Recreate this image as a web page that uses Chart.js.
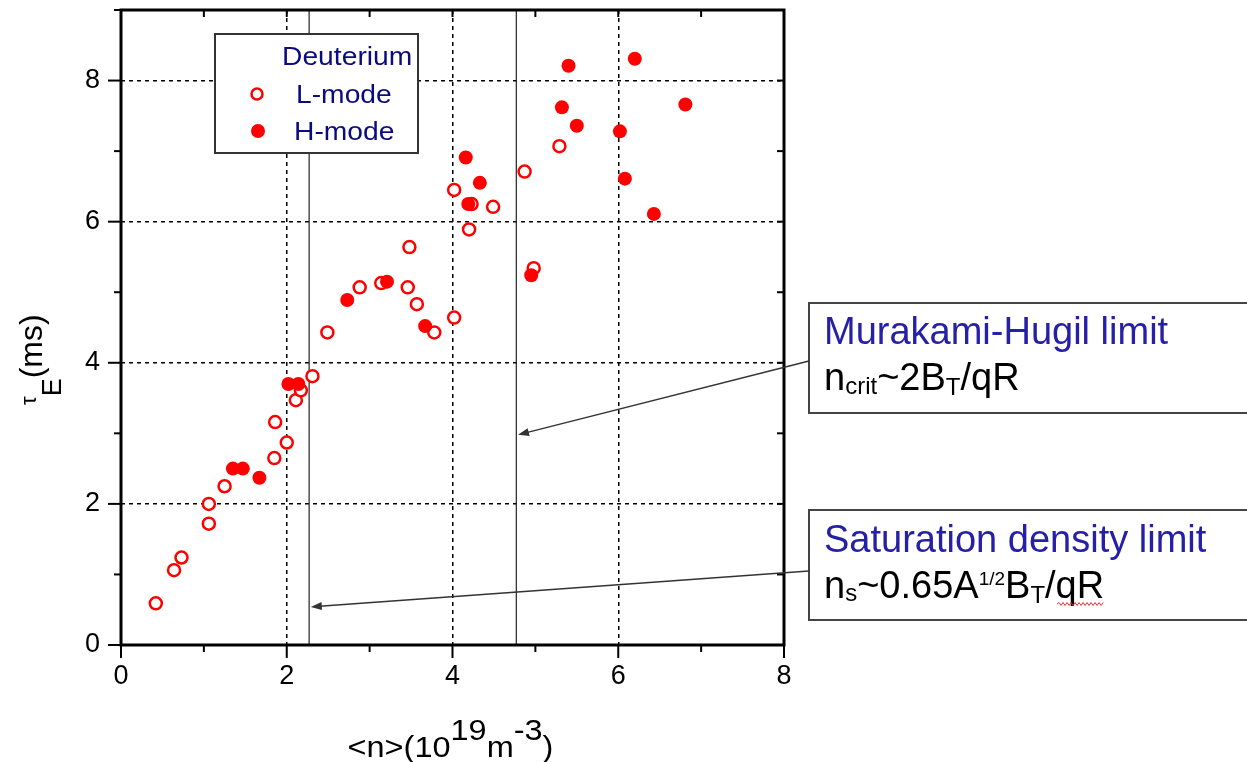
<!DOCTYPE html>
<html>
<head>
<meta charset="utf-8">
<script src="https://cdn.jsdelivr.net/npm/chart.js"></script>
<style>
  html, body { margin: 0; padding: 0; background: #fff; overflow: hidden; }
  #wrap { width: 1247px; height: 762px; position: relative; }
</style>
</head>
<body>
<div id="wrap"><canvas id="tauChart" width="1247" height="762"></canvas></div>
<script>
(function() {
    'use strict';

    // ─── DATA ───────────────────────────────────────────────
    const lModeN   = [0.42, 0.64, 0.73, 1.06, 1.06, 1.25, 1.85, 1.86, 2.00, 2.11, 2.17, 2.31, 2.49, 2.88,
                      3.14, 3.46, 3.48, 3.57, 3.78, 4.02, 4.02, 4.20, 4.23, 4.49, 4.87, 4.98, 5.29];
    const lModeTau = [0.59, 1.06, 1.24, 2.00, 1.72, 2.25, 2.65, 3.16, 2.87, 3.47, 3.61, 3.81, 4.43, 5.07,
                      5.13, 5.07, 5.64, 4.83, 4.43, 4.64, 6.45, 5.89, 6.25, 6.21, 6.71, 5.34, 7.07];
    const hModeN   = [1.35, 1.47, 1.67, 2.02, 2.14, 2.73, 3.21, 3.67, 4.16, 4.19, 4.33, 4.95, 5.32, 5.40,
                      5.50, 6.02, 6.08, 6.20, 6.43, 6.81];
    const hModeTau = [2.50, 2.50, 2.37, 3.70, 3.70, 4.89, 5.15, 4.52, 6.91, 6.25, 6.55, 5.24, 7.62, 8.21,
                      7.36, 7.28, 6.61, 8.31, 6.11, 7.66];

    const xLabels = [0, 2, 4, 6, 8];
    const yLabels = [0, 2, 4, 6, 8];
    const xMax = 8, yMax = 9;

    const saturationLimit = 2.27;   // n_s
    const murakamiLimit = 4.77;     // n_crit
    // arrow tips, in data units
    const murakamiTip = { x: 4.79, y: 2.98 };
    const saturationTip = { x: 2.29, y: 0.54 };

    const RED = '#ff0000';
    const NAVY = '#0b0b80';
    const BLUE = '#2520a6';
    const FONT = '"Liberation Sans", Arial, sans-serif';

    const toPoints = (xs, ys) => xs.map((v, i) => ({ x: v, y: ys[i] }));

    // ─── HELPERS ────────────────────────────────────────────
    function line(ctx, x1, y1, x2, y2) {
        ctx.beginPath(); ctx.moveTo(x1, y1); ctx.lineTo(x2, y2); ctx.stroke();
    }

    // draws runs of text with size / baseline shifts, returns x ranges of each run
    function richText(ctx, x, y, parts, sx) {
        sx = sx || 1;
        const spans = [];
        ctx.save();
        ctx.translate(x, y);
        ctx.scale(sx, 1);
        ctx.textBaseline = 'alphabetic';
        ctx.textAlign = 'left';
        let cx = 0;
        parts.forEach(p => {
            ctx.font = p.size + 'px ' + FONT;
            ctx.fillStyle = p.color || '#000';
            ctx.fillText(p.t, cx, p.dy || 0);
            const w = ctx.measureText(p.t).width;
            spans.push([x + cx * sx, x + (cx + w) * sx]);
            cx += w;
        });
        ctx.restore();
        return spans;
    }

    function arrow(ctx, x1, y1, x2, y2) {
        const ang = Math.atan2(y2 - y1, x2 - x1);
        const len = 11, half = 4;
        ctx.save();
        ctx.strokeStyle = '#333';
        ctx.fillStyle = '#333';
        ctx.lineWidth = 1.3;
        line(ctx, x1, y1, x2 - Math.cos(ang) * len * 0.8, y2 - Math.sin(ang) * len * 0.8);
        ctx.beginPath();
        ctx.moveTo(x2, y2);
        ctx.lineTo(x2 - Math.cos(ang) * len - Math.sin(ang) * half, y2 - Math.sin(ang) * len + Math.cos(ang) * half);
        ctx.lineTo(x2 - Math.cos(ang) * len + Math.sin(ang) * half, y2 - Math.sin(ang) * len - Math.cos(ang) * half);
        ctx.closePath();
        ctx.fill();
        ctx.restore();
    }

    function squiggle(ctx, x1, x2, y) {
        ctx.save();
        ctx.strokeStyle = '#e03030';
        ctx.lineWidth = 1;
        ctx.beginPath();
        let up = true;
        ctx.moveTo(x1, y);
        for (let x = x1 + 2; x <= x2; x += 2) {
            ctx.lineTo(x, y + (up ? -1.5 : 1.5));
            up = !up;
        }
        ctx.stroke();
        ctx.restore();
    }

    // ─── PLUGIN: limit lines behind the points ──────────────
    const limitLinesPlugin = {
        id: 'limitLines',
        beforeDatasetsDraw(chart) {
            const { ctx, chartArea: a, scales: { x } } = chart;
            ctx.save();
            ctx.strokeStyle = '#222';
            ctx.lineWidth = 1.2;
            [saturationLimit, murakamiLimit].forEach(v => {
                const px = x.getPixelForValue(v);
                line(ctx, px, a.top, px, a.bottom);
            });
            ctx.restore();
        }
    };

    // ─── PLUGIN: frame, ticks, titles, legend, notes ────────
    const decorPlugin = {
        id: 'decor',
        afterDatasetsDraw(chart) {
            const { ctx, chartArea: a, scales: { x, y } } = chart;

            // frame
            ctx.save();
            ctx.strokeStyle = '#000';
            ctx.lineWidth = 3;
            ctx.strokeRect(a.left, a.top, a.right - a.left, a.bottom - a.top);

            // tick marks: out on left/bottom, in on top/right
            ctx.lineWidth = 2;
            x.ticks.forEach(t => {
                const px = x.getPixelForValue(t.value);
                const len = t.value % 2 === 0 ? 13 : 7;
                line(ctx, px, a.bottom, px, a.bottom + len);
                line(ctx, px, a.top, px, a.top + 7);
            });
            y.ticks.forEach(t => {
                const py = y.getPixelForValue(t.value);
                const len = t.value % 2 === 0 ? 13 : 7;
                line(ctx, a.left - len, py, a.left, py);
                line(ctx, a.right - 7, py, a.right, py);
            });
            ctx.restore();

            // x title
            const xMid = (a.left + a.right) / 2;
            ctx.save();
            const xParts = [
                { t: '<n>(10', size: 29 },
                { t: '19', size: 29, dy: -17 },
                { t: 'm', size: 29 },
                { t: '-3', size: 29, dy: -17 },
                { t: ')', size: 29 }
            ];
            let w = 0;
            xParts.forEach(p => { ctx.font = p.size + 'px ' + FONT; w += ctx.measureText(p.t).width; });
            ctx.restore();
            richText(ctx, xMid - w * 1.12 / 2 - 2, 757, xParts, 1.12);

            // y title (rotated)
            ctx.save();
            ctx.translate(42, 405);
            ctx.rotate(-Math.PI / 2);
            richText(ctx, 0, 0, [
                { t: 'τ', size: 22, dy: -6 },
                { t: 'E', size: 27, dy: 19 },
                { t: '(ms)', size: 32 }
            ]);
            ctx.restore();

            // legend
            ctx.save();
            ctx.fillStyle = '#fff';
            ctx.strokeStyle = '#333';
            ctx.lineWidth = 2;
            ctx.fillRect(215, 34, 203, 119);
            ctx.strokeRect(215, 34, 203, 119);
            ctx.beginPath();
            ctx.arc(257, 94, 5.5, 0, Math.PI * 2);
            ctx.strokeStyle = RED;
            ctx.lineWidth = 2.5;
            ctx.stroke();
            ctx.beginPath();
            ctx.arc(258, 131, 7, 0, Math.PI * 2);
            ctx.fillStyle = RED;
            ctx.fill();
            ctx.restore();
            richText(ctx, 282, 65, [{ t: 'Deuterium', size: 25, color: NAVY }], 1.13);
            richText(ctx, 296, 103, [{ t: 'L-mode', size: 25, color: NAVY }], 1.13);
            richText(ctx, 294, 140, [{ t: 'H-mode', size: 25, color: NAVY }], 1.13);

            // annotation boxes
            ctx.save();
            ctx.fillStyle = '#fff';
            ctx.strokeStyle = '#444';
            ctx.lineWidth = 2;
            ctx.fillRect(809, 303, 460, 110);
            ctx.strokeRect(809, 303, 460, 110);
            ctx.fillRect(809, 510, 460, 110);
            ctx.strokeRect(809, 510, 460, 110);
            ctx.restore();

            richText(ctx, 824, 344, [{ t: 'Murakami-Hugil limit', size: 38, color: BLUE }]);
            richText(ctx, 824, 390, [
                { t: 'n', size: 38 },
                { t: 'crit', size: 24, dy: 4 },
                { t: '~2B', size: 38 },
                { t: 'T', size: 24, dy: 5 },
                { t: '/qR', size: 38 }
            ]);
            richText(ctx, 824, 552, [{ t: 'Saturation density limit', size: 38, color: BLUE }]);
            const spans = richText(ctx, 824, 598, [
                { t: 'n', size: 38 },
                { t: 's', size: 24, dy: 3 },
                { t: '~0.65A', size: 38 },
                { t: '1/2', size: 19, dy: -13 },
                { t: 'B', size: 38 },
                { t: 'T', size: 24, dy: 5 },
                { t: '/qR', size: 38 }
            ]);
            const last = spans[spans.length - 1];
            squiggle(ctx, last[0] + 12, last[1], 604);

            // arrows from the boxes to the limit lines
            arrow(ctx, 809, 361, x.getPixelForValue(murakamiTip.x), y.getPixelForValue(murakamiTip.y));
            arrow(ctx, 809, 571, x.getPixelForValue(saturationTip.x), y.getPixelForValue(saturationTip.y));
        }
    };

    // ─── CHART ──────────────────────────────────────────────
    const gridColor = (ctx, max) => {
        const v = ctx.tick ? ctx.tick.value : null;
        return (v !== null && v % 2 === 0 && v > 0 && v < max) ? '#000' : 'rgba(0,0,0,0)';
    };

    const canvas = document.getElementById('tauChart');
    new Chart(canvas.getContext('2d'), {
        type: 'scatter',
        data: {
            datasets: [
                {
                    label: 'L-mode',
                    data: toPoints(lModeN, lModeTau),
                    pointStyle: 'circle',
                    pointRadius: 6,
                    pointBorderWidth: 2.5,
                    borderColor: RED,
                    backgroundColor: '#fff',
                    order: 1
                },
                {
                    label: 'H-mode',
                    data: toPoints(hModeN, hModeTau),
                    pointStyle: 'circle',
                    pointRadius: 7,
                    pointBorderWidth: 0,
                    borderColor: RED,
                    backgroundColor: RED,
                    order: 0
                }
            ]
        },
        options: {
            responsive: false,
            animation: false,
            devicePixelRatio: 1,
            layout: { padding: { left: 0, top: 10, right: 463, bottom: 0 } },
            plugins: { legend: { display: false }, tooltip: { enabled: false } },
            scales: {
                x: {
                    type: 'linear',
                    min: 0, max: xMax,
                    afterFit: (s) => { s.height = 117; s.paddingLeft = 0; s.paddingRight = 0; },
                    ticks: {
                        stepSize: 1,
                        autoSkip: false,
                        maxRotation: 0,
                        padding: 15,
                        color: '#000',
                        font: { family: FONT, size: 27 },
                        callback: (v) => xLabels.includes(v) ? String(v) : ''
                    },
                    grid: { drawTicks: false, lineWidth: 1.5, color: (c) => gridColor(c, xMax) },
                    border: { display: false, dash: [4, 4] }
                },
                y: {
                    type: 'linear',
                    min: 0, max: yMax,
                    afterFit: (s) => { s.width = 121; s.paddingTop = 0; s.paddingBottom = 0; },
                    ticks: {
                        stepSize: 1,
                        autoSkip: false,
                        padding: 21,
                        color: '#000',
                        font: { family: FONT, size: 27 },
                        callback: (v) => yLabels.includes(v) ? String(v) : ''
                    },
                    grid: { drawTicks: false, lineWidth: 1.5, color: (c) => gridColor(c, yMax) },
                    border: { display: false, dash: [4, 4] }
                }
            }
        },
        plugins: [limitLinesPlugin, decorPlugin]
    });
})();
</script>
</body>
</html>
